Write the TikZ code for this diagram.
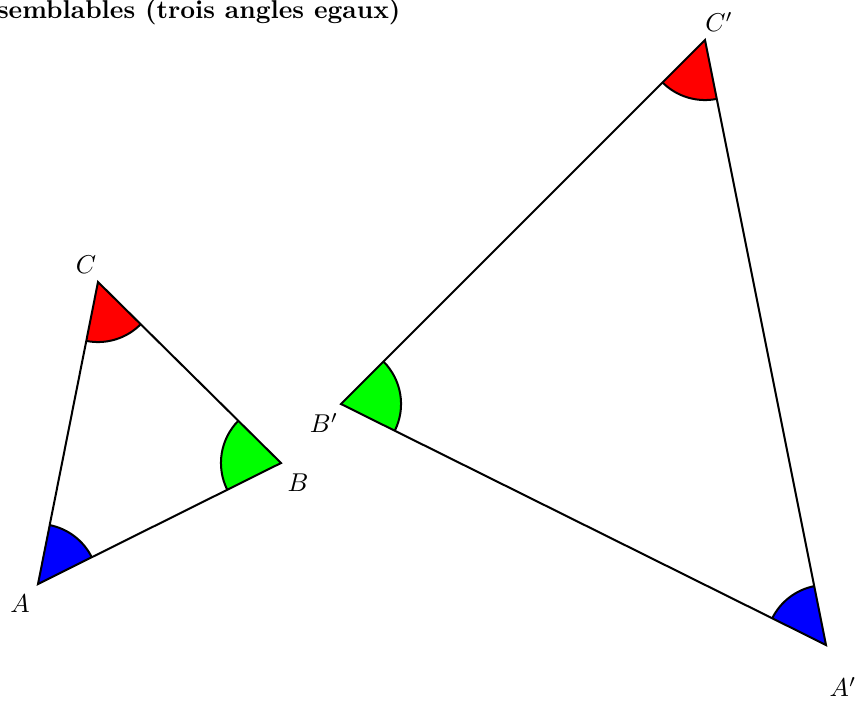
\documentclass[tikz,border=0pt]{standalone}
\usetikzlibrary{angles}
\begin{document}
\begin{tikzpicture}[x=0.388pt,y=-0.388pt,
  side/.style={line width=0.78pt, line join=miter},
  ang/.style={draw, line width=0.78pt, angle radius=23.3pt},
  lbl/.style={inner sep=0pt}]
\useasboundingbox (0,0) rectangle (858,702);
\node[anchor=base east, inner sep=0pt, font=\bfseries] (title) at (401,18) {Triangles semblables (trois angles egaux)};
% small triangle
\coordinate (A) at (38,584);
\coordinate (B) at (281,463);
\coordinate (C) at (98,282);
% big triangle
\coordinate (A2) at (826,645);
\coordinate (B2) at (341,404);
\coordinate (C2) at (705,40);
\pic[ang, fill=blue] {angle = B--A--C};
\pic[ang, fill=green] {angle = C--B--A};
\pic[ang, fill=red] {angle = A--C--B};
\pic[ang, fill=blue] {angle = C2--A2--B2};
\pic[ang, fill=green] {angle = A2--B2--C2};
\pic[ang, fill=red] {angle = B2--C2--A2};
\draw[side] (A) -- (B) -- (C) -- cycle;
\draw[side] (A2) -- (B2) -- (C2) -- cycle;
\node[lbl] (la) at (20,604) {$A$};
\node[lbl] (lb) at (298,483) {$B$};
\node[lbl] (lc) at (86,265) {$C$};
\node[lbl] (la2) at (843,687) {$A'$};
\node[lbl] (lb2) at (324,423) {$B'$};
\node[lbl] (lc2) at (719,22) {$C'$};
\end{tikzpicture}
\end{document}
